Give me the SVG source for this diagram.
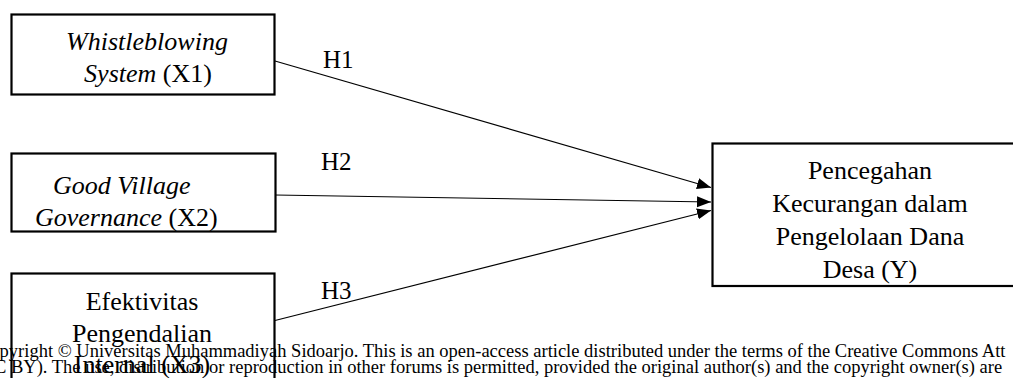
<svg xmlns="http://www.w3.org/2000/svg" width="1013" height="378" viewBox="0 0 1013 378">
<defs>
<style>
.box{fill:#fff;stroke:#000;stroke-width:2.2}
.t{font-family:"Liberation Serif","Times New Roman",serif;font-size:26px;fill:#000}
.i{font-style:italic}
.h{font-family:"Liberation Serif","Times New Roman",serif;font-size:25px;fill:#000}
.c{stroke:#000;stroke-width:1.2;fill:none;marker-end:url(#arr)}
.cr{font-family:"Liberation Serif","Times New Roman",serif;font-size:18.5px;fill:#000}
</style>
<marker id="arr" markerUnits="userSpaceOnUse" markerWidth="15" markerHeight="12" refX="14" refY="5.5" orient="auto">
<path d="M0,0 L14,5.5 L0,11 z" fill="#000"/>
</marker>
</defs>
<rect width="1013" height="378" fill="#fff"/>
<g id="connectors">
<line class="c" x1="275" y1="61" x2="711" y2="187.5"/>
<line class="c" x1="275" y1="195" x2="711" y2="202"/>
<line class="c" x1="275" y1="320.5" x2="711" y2="210.5"/>
<text class="h" x="323" y="68">H1</text>
<text class="h" x="321" y="170">H2</text>
<text class="h" x="321" y="299">H3</text>
</g>
<g id="x1">
<rect class="box" x="11.5" y="14.5" width="263" height="80"/>
<text class="t i" x="147" y="50" text-anchor="middle">Whistleblowing</text>
<text class="t" x="148" y="82" text-anchor="middle"><tspan class="i">System</tspan> (X1)</text>
</g>
<g id="x2">
<rect class="box" x="11.5" y="153.5" width="264" height="78"/>
<text class="t i" x="53" y="194">Good Village</text>
<text class="t" x="35" y="226"><tspan class="i">Governance</tspan> (X2)</text>
</g>
<g id="x3">
<rect class="box" x="11.5" y="273.5" width="263" height="120"/>
<text class="t" x="142" y="310" text-anchor="middle">Efektivitas</text>
<text class="t" x="142" y="342" text-anchor="middle">Pengendalian</text>
<text class="t" x="142" y="373" text-anchor="middle">Internal (X3)</text>
</g>
<g id="y">
<rect class="box" x="712.5" y="143.5" width="320" height="142.5"/>
<text class="t" x="870" y="179" text-anchor="middle">Pencegahan</text>
<text class="t" x="870" y="212" text-anchor="middle">Kecurangan dalam</text>
<text class="t" x="870" y="245" text-anchor="middle">Pengelolaan Dana</text>
<text class="t" x="870" y="278" text-anchor="middle">Desa (Y)</text>
</g>
<g id="copyright">
<text class="cr" x="-22" y="357">Copyright © Universitas Muhammadiyah Sidoarjo. This is an open-access article distributed under the terms of the Creative Commons Att</text>
<text class="cr" x="-24.5" y="373">(CC BY). The use, distribution or reproduction in other forums is permitted, provided the original author(s) and the copyright owner(s) are</text>
</g>
</svg>
